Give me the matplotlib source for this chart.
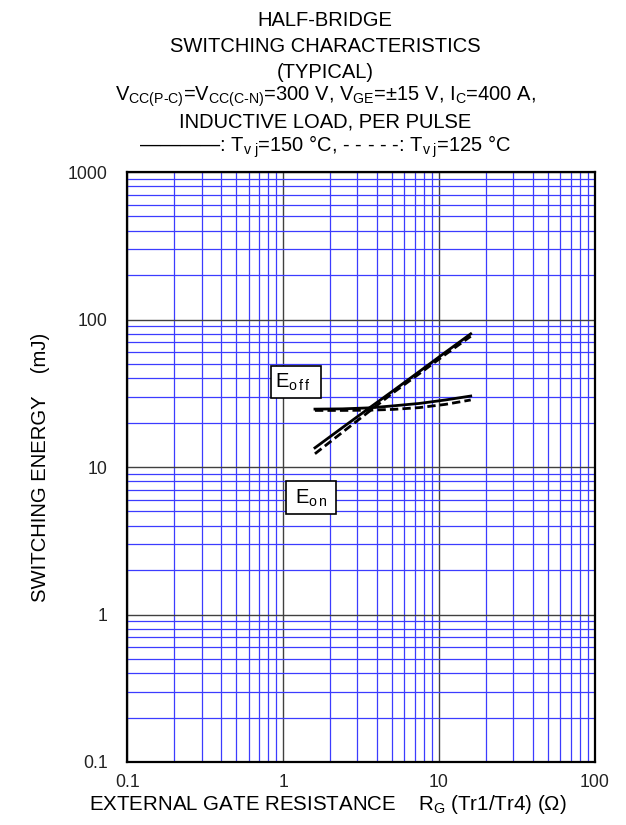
import numpy as np
import matplotlib.pyplot as plt
from matplotlib.patches import Rectangle
from matplotlib.ticker import LogLocator, NullFormatter, FixedLocator

plt.rcParams['font.family'] = ['Liberation Sans', 'DejaVu Sans']
plt.rcParams['mathtext.fontset'] = 'custom'
plt.rcParams['mathtext.rm'] = 'Liberation Sans'
plt.rcParams['mathtext.it'] = 'Liberation Sans'

# data
rg = [1.6, 2.4, 3.6, 5.1, 7.5, 11, 16]
eon_150 = [13.5, 18.5, 25.3, 33.0, 44.5, 60.0, 80.0]
eon_125 = [12.3, 17.2, 24.0, 32.0, 43.0, 58.0, 77.0]
eoff_150 = [24.7, 24.8, 25.2, 26.0, 27.0, 28.5, 30.3]
eoff_125 = [24.2, 24.2, 24.3, 24.6, 25.3, 26.6, 28.5]

x_ticks = [0.1, 1, 10, 100]
x_labels = ['0.1', '1', '10', '100']
y_ticks = [0.1, 1, 10, 100, 1000]
y_labels = ['0.1', '1', '10', '100', '1000']

fig = plt.figure(figsize=(6.26, 8.25), dpi=100)
ax = fig.add_axes([0.2035, 0.0764, 0.7465, 0.715])

ax.set_xscale('log')
ax.set_yscale('log')
ax.set_xlim(0.1, 100)
ax.set_ylim(0.1, 1000)

# grid: blue minor lines, dark major lines
ax.xaxis.set_minor_locator(LogLocator(base=10, subs=np.arange(2, 10)))
ax.yaxis.set_minor_locator(LogLocator(base=10, subs=np.arange(2, 10)))
ax.xaxis.set_minor_formatter(NullFormatter())
ax.yaxis.set_minor_formatter(NullFormatter())
ax.grid(True, which='minor', color='#3c3cff', linewidth=0.9)
ax.grid(True, which='major', color='#404040', linewidth=1.0)
ax.set_axisbelow(True)

ax.xaxis.set_major_locator(FixedLocator(x_ticks))
ax.yaxis.set_major_locator(FixedLocator(y_ticks))
ax.set_xticklabels(x_labels)
ax.set_yticklabels(y_labels)
ax.tick_params(which='both', length=0)
ax.tick_params(axis='x', pad=9, labelsize=12.7, colors='#222222')
ax.tick_params(axis='y', pad=14, labelsize=12.7, colors='#222222')
for s in ax.spines.values():
    s.set_linewidth(1.6)
    s.set_color('black')

# curves
ax.plot(rg, eon_150, color='black', linewidth=2)
ax.plot(rg, eon_125, color='black', linewidth=2, linestyle=(0, (3, 1.5)))
ax.plot(rg, eoff_150, color='black', linewidth=2)
ax.plot(rg, eoff_125, color='black', linewidth=2, linestyle=(0, (3, 1.5)))

# label boxes
ax.add_patch(Rectangle((0.837, 29.4), 1.756 - 0.837, 48.3 - 29.4, facecolor='white',
                       edgecolor='black', linewidth=1.2, zorder=4))
ax.text(0.885, 37.5, r'E$_{\mathregular{o\,f\,f}}$', fontsize=14.5, ha='left', va='center', zorder=5)
ax.add_patch(Rectangle((1.045, 4.80), 2.19 - 1.045, 8.04 - 4.80, facecolor='white',
                       edgecolor='black', linewidth=1.2, zorder=4))
ax.text(1.20, 6.15, r'E$_{\mathregular{o\,n}}$', fontsize=14.5, ha='left', va='center', zorder=5)

# axis titles (the x title sits left of the plot centre, as in the source)
fig.text(328 / 626, 1 - 804 / 825,
         r'EXTERNAL GATE RESISTANCE    R$_{\mathregular{G}}$ (Tr1/Tr4) ($\Omega$)',
         fontsize=14.8, ha='center', va='center')
ax.set_ylabel('SWITCHING ENERGY    (mJ)', fontsize=14.6, labelpad=13)

# title block
cx = 325 / 626
title_lines = [
    (21, 'HALF-BRIDGE'),
    (46, 'SWITCHING CHARACTERISTICS'),
    (72, '(TYPICAL)'),
    (97, r'V$_{\mathregular{CC(P\text{-}C)}}$=V$_{\mathregular{CC(C\text{-}N)}}$=300 V, V$_{\mathregular{GE}}$=±15 V, I$_{\mathregular{C}}$=400 A,'),
    (122, 'INDUCTIVE LOAD, PER PULSE'),
    (147, r'————: T$_{\mathregular{v\ j}}$=150 °C, - - - - -: T$_{\mathregular{v\ j}}$=125 °C'),
]
for y, s in title_lines:
    fig.text(cx, 1 - y / 825, s, fontsize=14.5, ha='center', va='center')

fig.savefig('out.png', dpi=100)
